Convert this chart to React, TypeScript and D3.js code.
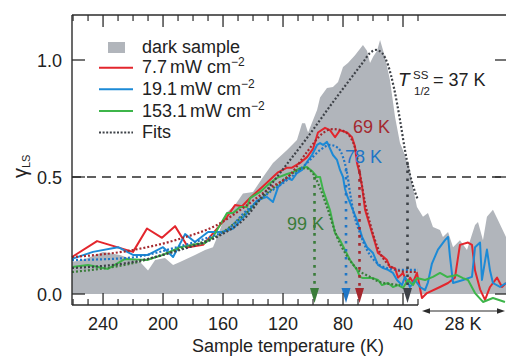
import React from "react";
import * as d3 from "d3";

// ---------- DATA (temperature sweep: [T (K), γLS]; hold at 28 K: [t (min), γLS]) ----------
const xTicksMajor = [240, 200, 160, 120, 80, 40];
const yTicks = [0, 0.5, 1.0];
const seriesNames = ["dark sample", "7.7", "19.1", "153.1", "Fits"];
const halfTemps = [99, 78, 69, 37]; // green, blue, red, dark

const darkSweep: [number, number][] = [
  [260.7, 0.137], [252, 0.15], [240, 0.18], [228.7, 0.167], [215.3, 0.137], [210, 0.1], [205.3, 0.145],
  [198.7, 0.154], [193.3, 0.124], [188.7, 0.137], [178.7, 0.167], [172, 0.188], [166.7, 0.2], [163.3, 0.252],
  [158, 0.346], [152, 0.38], [146.7, 0.43], [140, 0.436], [133.3, 0.5], [126.7, 0.56], [117.3, 0.615],
  [110.7, 0.658], [107.3, 0.73], [105.3, 0.73], [103.3, 0.69], [97.3, 0.786], [95.3, 0.84], [90.7, 0.88],
  [86.7, 0.885], [83.3, 0.906], [80, 0.97], [76.7, 0.987], [72, 1.02], [66.7, 1.064], [64, 1.04], [62, 0.987],
  [60, 1.013], [57.3, 1.04], [55.3, 1.085], [52, 1.013], [48.7, 0.915], [45.3, 0.756], [42, 0.645],
  [38.7, 0.594], [37.3, 0.56], [35.3, 0.53], [34, 0.474], [30.7, 0.372],
];
const darkHold: [number, number][] = [
  [3.4, 0.33], [6.8, 0.346], [10.2, 0.286], [15, 0.274], [17, 0.244], [20.5, 0.265], [23.9, 0.2], [28.6, 0.23],
  [33.4, 0.188], [38.9, 0.295], [40.9, 0.308], [44.3, 0.23], [47, 0.33], [51.1, 0.36], [54.5, 0.316], [60, 0.244],
];

const redSweep: [number, number][] = [
  [260.7, 0.158], [244, 0.226], [220, 0.18], [210.7, 0.28], [200.7, 0.24], [192, 0.29], [183.3, 0.2],
  [173.3, 0.21], [165.3, 0.27], [157.3, 0.33], [152, 0.38], [147.3, 0.375], [142, 0.41], [133.3, 0.46],
  [123.3, 0.52], [117.3, 0.54], [114, 0.54], [108.7, 0.56], [104, 0.585], [100, 0.62], [96.7, 0.69], [92, 0.71],
  [88.7, 0.7], [85.3, 0.67], [82, 0.7], [77.3, 0.69], [74, 0.67], [72, 0.63], [70.7, 0.56], [68.7, 0.51],
  [67.3, 0.46], [65.3, 0.36], [62, 0.29], [58.7, 0.22], [56.7, 0.175], [53.3, 0.16], [50.7, 0.145],
  [48.7, 0.115], [45.3, 0.11], [43.3, 0.07], [40, 0.09], [37.3, 0.047], [35.3, 0.07], [33.3, 0.05], [30.7, 0.09],
];
const redHold: [number, number][] = [
  [2.7, -0.017], [6.1, 0.004], [15, 0.03], [20.5, 0.047], [25.2, 0.07], [28.6, 0.21], [34.1, 0.22], [36.8, 0.21],
  [38.9, 0.1], [42.3, 0.02], [45.7, -0.025], [49.1, 0.03], [53.9, 0.07], [57.3, 0.03], [60, 0.047],
];

const blueSweep: [number, number][] = [
  [260.7, 0.15], [246.7, 0.18], [230, 0.2], [220, 0.167], [210, 0.167], [200, 0.2], [193.3, 0.158],
  [185.3, 0.256], [178.7, 0.222], [170, 0.265], [160.7, 0.265], [153.3, 0.28], [144, 0.346], [137.3, 0.4],
  [130.7, 0.415], [126.7, 0.393], [123.3, 0.457], [117.3, 0.496], [114, 0.487], [110.7, 0.517], [107.3, 0.53],
  [104, 0.564], [100.7, 0.594], [97.3, 0.637], [95.3, 0.645], [93.3, 0.637], [90.7, 0.65], [86.7, 0.594],
  [84, 0.573], [82, 0.53], [80, 0.5], [78.7, 0.45], [77.3, 0.42], [75.3, 0.389], [70.7, 0.316], [67.3, 0.244],
  [64, 0.2], [60, 0.175], [56.7, 0.124], [53.3, 0.111], [50, 0.103], [46.7, 0.09], [44, 0.06], [40.7, 0.038],
  [38.7, 0.073], [35.3, 0.03], [32, 0.06],
];
const blueHold: [number, number][] = [
  [1.4, 0.03], [4.8, 0.017], [6.8, 0.05], [9.5, 0.13], [13.6, 0.19], [18.4, 0.23], [20.5, 0.244], [21.8, 0.16],
  [23.9, 0.047], [30.7, 0.06], [36.8, 0.073], [38.9, 0.2], [42.3, 0.22], [43.6, 0.06], [47, 0.19], [49.1, 0.1],
  [51.1, 0.047], [55.9, 0.03], [60, 0.047],
];

const greenSweep: [number, number][] = [
  [260.7, 0.115], [250, 0.124], [236.7, 0.107], [225.3, 0.15], [210.7, 0.145], [200, 0.167], [188.7, 0.2],
  [180.7, 0.21], [172, 0.218], [166.7, 0.244], [162, 0.295], [157.3, 0.346], [153.3, 0.346], [148.7, 0.372],
  [144, 0.372], [142, 0.41], [135.3, 0.436], [128.7, 0.474], [124, 0.496], [117.3, 0.513], [113.3, 0.521],
  [108.7, 0.538], [104, 0.543], [100, 0.521], [97.3, 0.5], [95.3, 0.5], [93.3, 0.444], [88.7, 0.359],
  [85.3, 0.26], [82, 0.23], [78.7, 0.188], [75.3, 0.145], [70.7, 0.103], [68.7, 0.073], [66.7, 0.068],
  [60, 0.068], [56.7, 0.06], [54, 0.038], [50, 0.047], [46.7, 0.03], [43.3, 0.038], [40, 0.026], [36.7, 0.06],
  [33.3, 0.038], [30.7, 0.068],
];
const greenHold: [number, number][] = [
  [4.8, 0.06], [10.2, 0.073], [15, 0.09], [19.8, 0.073], [26.6, 0.081], [30.7, 0.068], [34.1, 0.06],
  [38.9, 0.004], [44.3, -0.034], [51.1, -0.017], [59.3, -0.034],
];

const darkFit: [number, number][] = [
  [260.7, 0.111], [220, 0.137], [186.7, 0.192], [164, 0.244], [144, 0.333], [133.3, 0.423], [117.3, 0.556],
  [104, 0.667], [86.7, 0.82], [66.7, 0.99], [62, 1.03], [58, 1.043], [54, 1.03], [50, 0.979], [46, 0.88],
  [42, 0.744], [38.7, 0.615], [35.3, 0.509], [32, 0.436], [30, 0.402],
];
const redFit: [number, number][] = [
  [260.7, 0.158], [220, 0.188], [186.7, 0.24], [164, 0.295], [144, 0.38], [128.7, 0.453], [115.3, 0.509],
  [104, 0.607], [93.3, 0.688], [86.7, 0.705], [80, 0.697], [74, 0.658], [72, 0.624], [70, 0.564], [68, 0.487],
  [65.3, 0.389], [62, 0.303], [58.7, 0.23], [55.3, 0.175], [50.7, 0.132], [46.7, 0.111], [42, 0.098],
  [35.3, 0.094], [30, 0.094],
];
const blueFit: [number, number][] = [
  [260.7, 0.145], [224, 0.154], [190.7, 0.2], [168.7, 0.244], [157.3, 0.274], [144, 0.359], [128.7, 0.436],
  [115.3, 0.496], [104, 0.56], [95.3, 0.615], [88.7, 0.637], [83.3, 0.624], [80, 0.585], [77.3, 0.517],
  [75.3, 0.432], [73.3, 0.359], [68.7, 0.26], [64, 0.188], [57.3, 0.132], [50.7, 0.111], [44, 0.103], [30, 0.103],
];
const greenFit: [number, number][] = [
  [260.7, 0.094], [220, 0.132], [186.7, 0.197], [164, 0.248], [144, 0.35], [133.3, 0.415], [124, 0.466],
  [115.3, 0.509], [108.7, 0.534], [104.7, 0.538], [100.7, 0.521], [95.3, 0.453], [90.7, 0.372], [84, 0.244],
  [77.3, 0.162], [70.7, 0.107], [62, 0.073], [55.3, 0.051], [48.7, 0.043], [42, 0.038],
];

// ---------- STYLE ----------
const W = 506, H = 356;
const FONT = "'Liberation Sans', Arial, sans-serif";
const AX = "#2b2b2b";
const C = {
  gray: "#b1b5bb",
  red: "#e3262d",
  blue: "#1c8ad6",
  green: "#3db54a",
  redFit: "#a4282e",
  blueFit: "#1f76c6",
  greenFit: "#3a7c3a",
  darkFit: "#3e4248",
};

const x = d3.scaleLinear().domain([260.7, 30]).range([72, 418]);
const xh = d3.scaleLinear().domain([0, 60]).range([418, 506]);
const y = d3.scaleLinear().domain([0, 1]).range([294, 60]);

const pts = (sweep: [number, number][], hold: [number, number][] = []) => [
  ...sweep.map(([T, v]) => [x(T), y(v)] as [number, number]),
  ...hold.map(([t, v]) => [xh(t), y(v)] as [number, number]),
];

const line = d3.line<[number, number]>().x((d) => d[0]).y((d) => d[1]);
const smooth = d3.line<[number, number]>().x((d) => d[0]).y((d) => d[1]).curve(d3.curveMonotoneX);
const area = d3.area<[number, number]>().x((d) => d[0]).y0(y(0)).y1((d) => d[1]);

const fitAt = (fit: [number, number][], T: number) => {
  const s = [...fit].sort((a, b) => a[0] - b[0]);
  const f = d3.scaleLinear().domain(s.map((d) => d[0])).range(s.map((d) => d[1]));
  return f(T);
};

export default function App() {
  const minorTicks = d3.range(30, 261, 10).filter((t) => !xTicksMajor.includes(t));
  const markers = [
    { T: halfTemps[0], fit: greenFit, col: C.greenFit },
    { T: halfTemps[1], fit: blueFit, col: C.blueFit },
    { T: halfTemps[2], fit: redFit, col: C.redFit },
    { T: halfTemps[3], fit: darkFit, col: C.darkFit },
  ];
  const legendRows = [
    { name: seriesNames[1], col: C.red },
    { name: seriesNames[2], col: C.blue },
    { name: seriesNames[3], col: C.green },
  ];
  return (
    <svg width={W} height={H} style={{ position: "absolute", left: 0, top: 0, background: "#fff" }} fontFamily={FONT}>
      {/* dashed 0.5 line (under the gray area) */}
      <line x1={72} x2={W} y1={y(0.5)} y2={y(0.5)} stroke={AX} strokeWidth={1.3} strokeDasharray="9,6" />
      {/* dark sample */}
      <path d={area(pts(darkSweep, darkHold)) || ""} fill={C.gray} />
      {/* data lines */}
      <path d={line(pts(redSweep, redHold)) || ""} fill="none" stroke={C.red} strokeWidth={2} strokeLinejoin="round" />
      <path d={line(pts(blueSweep, blueHold)) || ""} fill="none" stroke={C.blue} strokeWidth={2} strokeLinejoin="round" />
      <path d={line(pts(greenSweep, greenHold)) || ""} fill="none" stroke={C.green} strokeWidth={2} strokeLinejoin="round" />
      {/* fits */}
      {[
        [greenFit, C.greenFit],
        [blueFit, C.blueFit],
        [redFit, C.redFit],
        [darkFit, C.darkFit],
      ].map(([f, col], i) => (
        <path key={i} d={smooth(pts(f as [number, number][])) || ""} fill="none" stroke={col as string}
          strokeWidth={2.2} strokeDasharray="2,2" />
      ))}
      {/* T1/2 markers */}
      {markers.map((m, i) => (
        <g key={i}>
          <line x1={x(m.T)} x2={x(m.T)} y1={y(fitAt(m.fit, m.T))} y2={288} stroke={m.col} strokeWidth={2.6}
            strokeDasharray="2.6,5.4" />
          <path d={`M${x(m.T) - 4.5},288 L${x(m.T) + 4.5},288 L${x(m.T)},303 Z`} fill={m.col} />
        </g>
      ))}
      {/* frame */}
      <line x1={72} x2={W} y1={15} y2={15} stroke={AX} strokeWidth={1.4} />
      <line x1={72} x2={72} y1={15} y2={305} stroke={AX} strokeWidth={1.4} />
      <line x1={72} x2={x(30)} y1={305} y2={305} stroke={AX} strokeWidth={1.4} />
      {xTicksMajor.map((t) => (
        <g key={"M" + t}>
          <line x1={x(t)} x2={x(t)} y1={305} y2={293} stroke={AX} strokeWidth={1.3} />
          <line x1={x(t)} x2={x(t)} y1={15} y2={27} stroke={AX} strokeWidth={1.3} />
          <text x={x(t)} y={330} textAnchor="middle" fontSize={18} fill="#222">{t}</text>
        </g>
      ))}
      {minorTicks.map((t) => (
        <g key={"m" + t}>
          <line x1={x(t)} x2={x(t)} y1={305} y2={299} stroke={AX} strokeWidth={1.2} />
          <line x1={x(t)} x2={x(t)} y1={15} y2={21} stroke={AX} strokeWidth={1.2} />
        </g>
      ))}
      {yTicks.map((v) => (
        <g key={"y" + v}>
          <line x1={72} x2={85} y1={y(v)} y2={y(v)} stroke={AX} strokeWidth={1.3} />
          <line x1={495} x2={W} y1={y(v)} y2={y(v)} stroke={AX} strokeWidth={1.3} />
          <text x={62} y={y(v) + 6.5} textAnchor="end" fontSize={18} fill="#222">{v.toFixed(1)}</text>
        </g>
      ))}
      {/* hold arrow */}
      <line x1={428} x2={499} y1={311} y2={311} stroke={AX} strokeWidth={1.2} />
      <path d="M422,311 L430,308.3 L430,313.7 Z" fill={AX} />
      <path d="M505,311 L497,308.3 L497,313.7 Z" fill={AX} />
      <text x={463} y={330} textAnchor="middle" fontSize={18} fill="#222">28 K</text>
      {/* axis titles */}
      <text x={288} y={351.5} textAnchor="middle" fontSize={18} fill="#222">Sample temperature (K)</text>
      <text transform="translate(27,178) rotate(-90)" fontSize={20} fill="#222">
        γ<tspan fontSize={11} dy={3}>LS</tspan>
      </text>
      {/* legend */}
      <rect x={108} y={42} width={17} height={11} fill={C.gray} />
      <text x={142} y={52.7} fontSize={18} fill="#222">{seriesNames[0]}</text>
      {legendRows.map((r, i) => (
        <g key={r.name}>
          <line x1={99} x2={133} y1={67.7 + i * 21.6} y2={67.7 + i * 21.6} stroke={r.col} strokeWidth={2} />
          <text x={142} y={73.3 + i * 21.6} fontSize={18} fill="#222">
            {r.name}
            <tspan dx={3}>mW cm</tspan>
            <tspan fontSize={12} dy={-7}>−2</tspan>
          </text>
        </g>
      ))}
      <line x1={99} x2={133} y1={132.5} y2={132.5} stroke={C.darkFit} strokeWidth={2} strokeDasharray="2,1.6" />
      <text x={142} y={138} fontSize={18} fill="#222">{seriesNames[4]}</text>
      {/* annotations */}
      <text x={398} y={86} fontSize={19} fill="#222" fontStyle="italic">T</text>
      <text x={413} y={79} fontSize={11.5} fill="#222">SS</text>
      <text x={414} y={95} fontSize={11.5} fill="#222">1/2</text>
      <text x={433} y={86} fontSize={18} fill="#222">= 37 K</text>
      <text x={353} y={133.3} fontSize={18} fill={C.redFit}>69 K</text>
      <text x={345} y={163.3} fontSize={18} fill={C.blueFit}>78 K</text>
      <text x={287} y={229.5} fontSize={18} fill={C.greenFit}>99 K</text>
    </svg>
  );
}
